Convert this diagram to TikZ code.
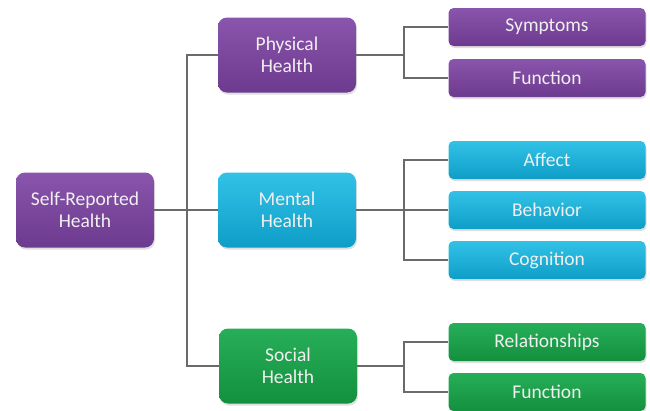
\documentclass[tikz,border=0pt]{standalone}
\usepackage{fontspec}
\setmainfont{Carlito}
\usetikzlibrary{shadows}
\definecolor{plumtop}{HTML}{8A55AC}
\definecolor{plumbot}{HTML}{6C3A8F}
\definecolor{aquatop}{HTML}{33C2E6}
\definecolor{aquabot}{HTML}{0E9DC7}
\definecolor{leaftop}{HTML}{27AE58}
\definecolor{leafbot}{HTML}{13903E}
\definecolor{linkgray}{HTML}{6A6A6A}

\tikzset{
  bigbox/.style={rounded corners=9pt, minimum width=138pt, minimum height=75pt,
    align=center, text=white!94!black, font=\fontsize{19.5}{22}\selectfont,
    drop shadow={opacity=0.25, shadow xshift=1pt, shadow yshift=-2pt}},
  smallbox/.style={rounded corners=5pt, minimum width=197pt, minimum height=38pt,
    align=center, text=white!94!black, font=\fontsize{19.5}{22}\selectfont,
    drop shadow={opacity=0.25, shadow xshift=1pt, shadow yshift=-2pt}},
  plum/.style={top color=plumtop, bottom color=plumbot},
  aqua/.style={top color=aquatop, bottom color=aquabot},
  leafy/.style={top color=leaftop, bottom color=leafbot},
  link/.style={draw=linkgray, line width=1.2pt}
}

\begin{document}
\begin{tikzpicture}[x=1pt, y=-1pt]
    \useasboundingbox (0,0) rectangle (650,410);

    % top level
    \node[bigbox, plum] (self) at (85, 210) {Self-Reported\\Health};

    % second level
    \node[bigbox, plum] (phys) at (287, 55) {Physical\\Health};
    \node[bigbox, aqua] (ment) at (287, 210) {Mental\\Health};
    \node[bigbox, leafy] (soc) at (288, 366) {Social\\Health};

    % leaves
    \node[smallbox, plum] (symp) at (547, 27) {Symptoms};
    \node[smallbox, plum] (pfun) at (547, 78) {Function};
    \node[smallbox, aqua] (aff) at (547, 160) {Affect};
    \node[smallbox, aqua] (beh) at (547, 210) {Behavior};
    \node[smallbox, aqua] (cog) at (547, 260) {Cognition};
    \node[smallbox, leafy] (rel) at (547, 342) {Relationships};
    \node[smallbox, leafy] (sfun) at (547, 392) {Function};

    % junctions
    \coordinate (jmain) at (187, 210);
    \coordinate (jphys) at (404, 55);
    \coordinate (jment) at (404, 210);
    \coordinate (jsoc) at (404, 366);

    \draw[link] (self) -- (ment);
    \draw[link] (phys.west) -| (jmain) |- (soc.west);
    \draw[link] (phys.east) -- (jphys);
    \draw[link] (symp.west) -| (jphys) |- (pfun.west);
    \draw[link] (ment.east) -- (beh.west);
    \draw[link] (aff.west) -| (jment) |- (cog.west);
    \draw[link] (soc.east) -- (jsoc);
    \draw[link] (rel.west) -| (jsoc) |- (sfun.west);
\end{tikzpicture}
\end{document}
